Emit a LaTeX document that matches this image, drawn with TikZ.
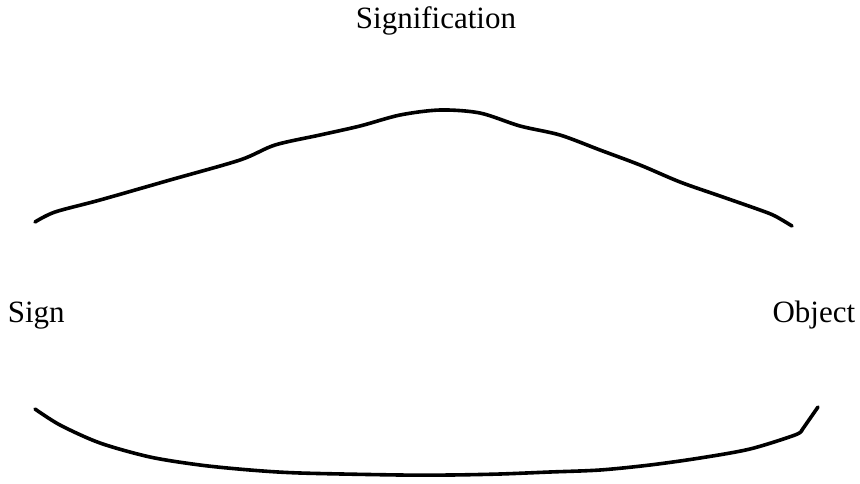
\documentclass[tikz,border=0pt]{standalone}
\usepackage{fontspec}
\setmainfont{Liberation Serif}
\usetikzlibrary{positioning}

\begin{document}
\begin{tikzpicture}[x=1pt,y=-1pt,line width=3.6pt,line cap=round,line join=round,
  term/.style={font=\fontsize{31}{37}\selectfont,inner sep=0pt,anchor=base}]

\useasboundingbox (0,0) rectangle (860,483);

% =====================
% Terms
% =====================
\node[term] (signif) at (436,28) {Signification};
\node[term,anchor=base west] (sign) at (6,322) {Sign};
\node[term,anchor=base east] (object) at (857,322) {Object};

% =====================
% Curve ends
% =====================
\coordinate (topL) at (35,222);
\coordinate (topR) at (792,226);
\coordinate (botL) at (35,409);
\coordinate (botR) at (818,407);

% =====================
% Upper arc
% =====================
\draw plot[smooth,tension=0.5] coordinates {
  (topL) (55,212) (100,200) (170,180) (240,160) (275,145) (320,135)
  (360,126) (400,115) (440,110) (480,113) (520,126) (560,135)
  (600,150) (640,165) (680,182) (720,196) (760,210) (775,216) (topR)};

% =====================
% Lower arc
% =====================
\draw plot[smooth,tension=0.5] coordinates {
  (botL) (60,425) (100,443) (150,457) (200,465) (250,470) (300,473)
  (400,475) (450,475) (500,474) (550,472) (600,470) (650,465)
  (700,458) (750,449) (795,435) (802,430)};
\draw (802,430) -- (botR);

\end{tikzpicture}
\end{document}
